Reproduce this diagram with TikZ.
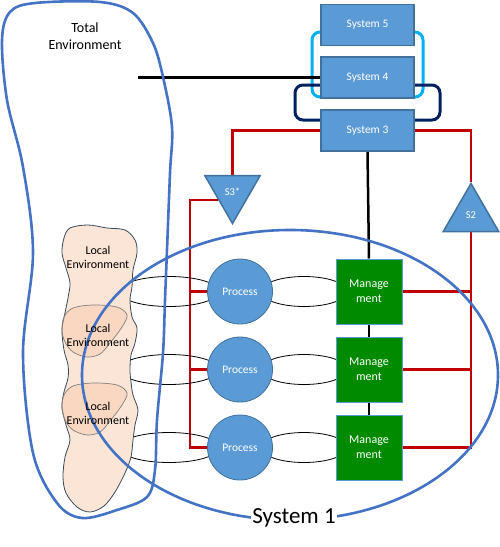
\documentclass[tikz,border=0pt]{standalone}
\usepackage{fontspec}
\setmainfont{Carlito}
\usetikzlibrary{shapes.geometric,calc}
\pgfdeclarelayer{bg}
\pgfsetlayers{bg,main}
\definecolor{boxblue}{HTML}{5B9BD5}
\definecolor{boxedge}{HTML}{41719C}
\definecolor{mgreen}{HTML}{008A00}
\definecolor{loopcyan}{HTML}{00B0F0}
\definecolor{loopnavy}{HTML}{002060}
\definecolor{vsmred}{HTML}{C00000}
\definecolor{outblue}{HTML}{4472C4}
\definecolor{peach}{HTML}{FBE5D6}
\definecolor{peachdark}{HTML}{F6C3A0}
\definecolor{blobedge}{HTML}{3A4A5A}
\tikzset{
  sysbox/.style={draw=boxedge, line width=1.5pt, fill=boxblue, minimum width=93pt, minimum height=41pt, inner sep=0pt, text=white, font=\fontsize{11.5}{13}\selectfont},
  procnode/.style={circle, draw=boxedge, line width=0.8pt, fill=boxblue, minimum size=65pt, inner sep=0pt, text=white, font=\fontsize{11.5}{13}\selectfont},
  mgmt/.style={draw=boxblue, line width=1pt, fill=mgreen, minimum width=66pt, minimum height=65pt, inner sep=0pt, text=white, align=center, font=\fontsize{12}{15}\selectfont},
  tri/.style={regular polygon, regular polygon sides=3, draw=boxedge, line width=1.5pt, fill=boxblue, minimum size=64pt, inner sep=0pt, text=white, font=\fontsize{10.5}{12}\selectfont},
  redline/.style={draw=vsmred, line width=2.5pt},
  blackline/.style={draw=black, line width=2.5pt},
  lens/.style={draw=black, line width=0.8pt},
  envlabel/.style={align=center, text=black, font=\fontsize{12}{14}\selectfont, inner sep=0pt},
  bigout/.style={draw=outblue, line width=2.6pt},
}
\begin{document}
\begin{tikzpicture}[x=1pt,y=-1pt]
\useasboundingbox (0,0) rectangle (500,547);

% nodes
\node[sysbox] (S5) at (367.5,25) {System 5};
\node[sysbox] (S4) at (367.5,77.5) {System 4};
\node[sysbox] (S3) at (367.5,130.5) {System 3};
\node[tri, shape border rotate=180] (S3s) at (232.5,191.5) {S3*};
\node[tri] (S2) at (471,215.5) {S2};
\node[procnode] (P1) at (240,291.5) {Process};
\node[procnode] (P2) at (240,369.5) {Process};
\node[procnode] (P3) at (240,447.5) {Process};
\node[mgmt] (M1) at (369,291.5) {Manage\\ment};
\node[mgmt] (M2) at (369,369.5) {Manage\\ment};
\node[mgmt] (M3) at (369,447.5) {Manage\\ment};
\node[envlabel] (L1) at (98,257) {Local\\Environment};
\node[envlabel] (L2) at (98,335) {Local\\Environment};
\node[envlabel] (L3) at (98,413) {Local\\Environment};
\node[align=center, font=\fontsize{14}{17}\selectfont] (TE) at (85,36) {Total\\Environment};
\node[fill=white, inner sep=1pt, font=\fontsize{23}{26}\selectfont] (SY1) at (294,518) {System 1};

\coordinate (te) at (138,77.5);
\coordinate (s3l) at ($(S3s.corner 3)!0.5!(S3s.corner 1)$);
\coordinate (rl) at (190,0);

\begin{pgfonlayer}{bg}
  % loops
  \draw[draw=loopcyan, line width=3pt, rounded corners=8pt] (312,32) rectangle (423,97);
  \draw[draw=loopnavy, line width=3pt, rounded corners=8pt] (295,85) rectangle (440,120);
  % black lines
  \draw[blackline] (te) -- (S4.west);
  \draw[blackline] (S3.south) -- (M1.north);
  \draw[blackline] (M1.south) -- (M2.north);
  \draw[blackline] (M2.south) -- (M3.north);
  % red lines
  \draw[redline] (S3.west) -| (S3s.north);
  \draw[redline] (s3l) -- (s3l -| rl) -- (rl |- P3.west) -- (P3.west);
  \draw[redline] (rl |- P1.west) -- (P1.west);
  \draw[redline] (rl |- P2.west) -- (P2.west);
  \draw[redline] (S3.east) -| (S2.corner 1);
  \draw[redline] (S2.south) -- (S2.south |- M3.east) -- (M3.east);
  \draw[redline] (M1.east) -- (M1.east -| S2.south);
  \draw[redline] (M2.east) -- (M2.east -| S2.south);
  % lenses
  \foreach \yy in {291.5,369.5,447.5}{
    \draw[lens] (304,\yy) ellipse [x radius=43pt, y radius=15pt];
    \draw[lens] (169,\yy) ellipse [x radius=50pt, y radius=15pt];
  }
  % local environment blob
  \draw[draw=blobedge, line width=0.8pt, fill=peach] plot[smooth cycle, tension=0.55] coordinates {
    (70,228) (88,225) (107,228) (125,230) (135,240) (137,253) (133,270) (132,287) (130,300)
    (132,317) (137,328) (135,343) (131,355) (130,370) (131,382) (133,395) (138,410) (135,425)
    (133,440) (131,457) (125,473) (115,492) (104,506) (90,512) (77,507) (66,493) (63,477)
    (65,457) (70,440) (66,425) (62,407) (64,392) (68,378) (68,365) (64,350) (62,330)
    (65,313) (68,298) (70,283) (66,268) (62,253) (64,238)};
  \foreach \dy in {0,78}{
    \draw[draw=gray, line width=0.7pt, fill=peachdark, fill opacity=0.4] plot[smooth cycle, tension=0.55] coordinates {
      (62,330+\dy) (64,317+\dy) (73,308+\dy) (93,305+\dy) (117,307+\dy) (127,315+\dy)
      (122,327+\dy) (110,343+\dy) (100,354+\dy) (87,357+\dy) (73,352+\dy) (65,342+\dy)};
  }
  % total environment outline
  \draw[bigout] plot[smooth cycle, tension=0.55] coordinates {
    (2,40) (10,12) (35,3) (100,2) (133,13) (153,43) (163,77) (172,127) (170,173)
    (167,250) (165,300) (163,353) (157,420) (155,470) (147,497) (117,510) (82,518)
    (57,503) (33,453) (23,353) (33,253) (23,167) (7,100)};
  % system 1 ellipse
  \draw[bigout] (290,375) ellipse [x radius=208pt, y radius=145pt];
\end{pgfonlayer}
\end{tikzpicture}
\end{document}
